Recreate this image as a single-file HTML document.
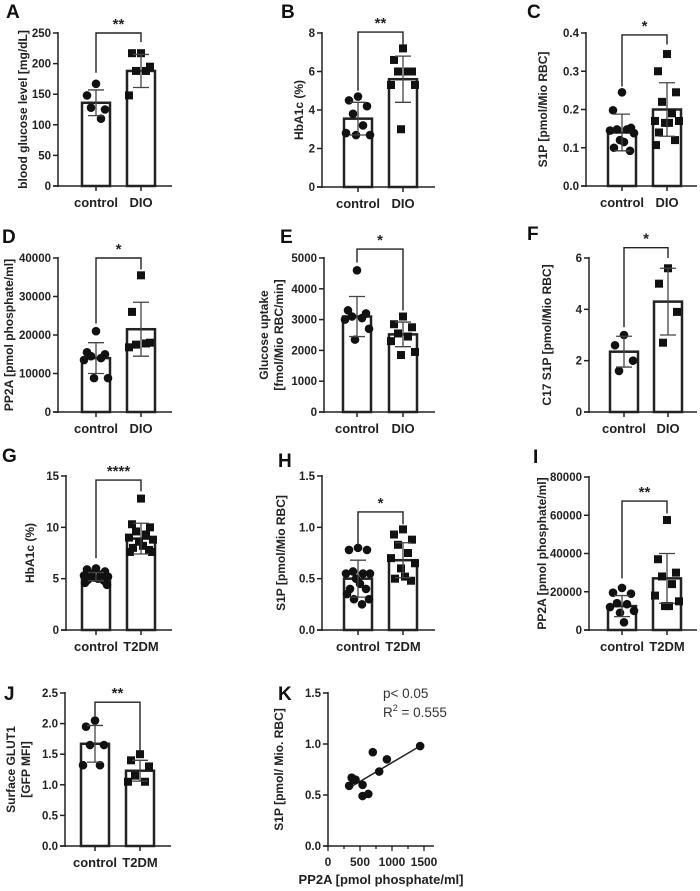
<!DOCTYPE html>
<html><head><meta charset="utf-8"><style>
body{margin:0;background:#fff}
svg{display:block;font-family:"Liberation Sans",Arial,sans-serif}
</style></head><body>
<svg id="fig" width="700" height="891" viewBox="0 0 700 891"></svg>
<script>
// ---- data ----
const catsDIO=["control","DIO"];
const catsT2=["control","T2DM"];
const aMeans=[136,188], aSD=[21,27];
const aCtrl=[167,148,125,128,110], aDio=[217,217,195,188,188,148];
const bMeans=[3.55,5.6], bSD=[0.85,1.2];
const bCtrl=[4.7,4.5,4.2,3.8,3.2,2.8,2.7,2.7], bDio=[7.2,6.6,6.0,6.0,6.0,5.3,5.3,3.0];
const cMeans=[0.14,0.2], cSD=[0.048,0.07];
const cCtrl=[0.245,0.198,0.152,0.148,0.148,0.145,0.138,0.12,0.115,0.1,0.092];
const cDio=[0.345,0.3,0.245,0.22,0.19,0.17,0.17,0.165,0.165,0.14,0.12,0.107];
const dMeans=[14000,21500], dSD=[4000,7000];
const dCtrl=[21000,15500,15000,14500,14000,13500,8800,8800], dDio=[35500,26000,18000,17500,17800,16800];
const eMeans=[3100,2520], eSD=[650,400];
const eCtrl=[4600,3300,3200,3100,3050,3000,2700,2350], eDio=[3100,2850,2750,2550,2450,2300,1950,1850];
const fMeans=[2.35,4.3], fSD=[0.6,1.3];
const fCtrl=[3.0,2.6,2.0,1.6], fDio=[5.6,5.0,3.9,2.7];
const gMeans=[5.2,8.9], gSD=[0.4,1.5];
const gCtrl=[6.0,5.9,5.7,5.5,5.4,5.3,5.2,5.1,5.0,4.9,4.8,4.6,4.4];
const gDio=[12.8,10.3,10,9.6,9.3,9,8.8,8.6,8.2,8,7.8,7.6,7.6];
const hMeans=[0.5,0.68], hSD=[0.18,0.17];
const hCtrl=[0.8,0.78,0.78,0.57,0.55,0.55,0.55,0.5,0.45,0.4,0.4,0.35,0.3,0.3,0.25];
const hDio=[0.98,0.93,0.88,0.83,0.75,0.7,0.65,0.6,0.52,0.5,0.48];
const iMeans=[12500,27000], iSD=[5500,13000];
const iCtrl=[22000,19500,19000,14000,13500,12000,10000,9000,4000];
const iDio=[57500,37000,30000,28000,24000,18000,15000,12500,12500];
const jMeans=[1.67,1.23], jSD=[0.3,0.17];
const jCtrl=[2.05,1.95,1.65,1.65,1.32,1.32], jDio=[1.5,1.4,1.3,1.15,1.05,1.05];
const kX=[330,370,400,430,540,540,630,700,800,920,1440];
const kY=[0.59,0.67,0.65,0.65,0.6,0.49,0.51,0.92,0.73,0.85,0.98];
const kFit=[0.57,0.98];

const NS="http://www.w3.org/2000/svg", svg=document.getElementById('fig');
function el(t,a,p){const e=document.createElementNS(NS,t);for(const k in a)e.setAttribute(k,a[k]);(p||svg).appendChild(e);return e;}
function txt(s,a,p){const e=el('text',a,p);e.textContent=s;return e;}
const jit=[0,-9,9,-5,5,-12,12,-2,2,-8,8,-11,11,-4,4];

function panel(o){
  const g=el('g',{});
  
  
  const y=v=>o.bot-(v/o.max)*(o.bot-o.top);
  const L=txt(o.id,{x:o.lx,y:o.ly,'font-size':19,'font-weight':'bold',fill:'#111'},g);
  
  el('line',{x1:o.ax,y1:o.top-1,x2:o.ax,y2:o.bot+1,stroke:'#222','stroke-width':1.5},g);
  el('line',{x1:o.ax-5,y1:o.bot,x2:o.xend,y2:o.bot,stroke:'#222','stroke-width':1.5},g);
  o.ticks.forEach((t,i)=>{const yy=y(t);
    el('line',{x1:o.ax-5,y1:yy,x2:o.ax,y2:yy,stroke:'#222','stroke-width':1.5},g);
    const tl=txt(o.tl[i],{x:o.ax-7,y:yy+4,'font-size':11.5,'font-weight':'bold','text-anchor':'end',fill:'#222'},g);
    });
  const tg=el('g',{transform:`translate(${o.tx},${(o.top+o.bot)/2}) rotate(-90)`},g);
  o.title.forEach((s,i)=>{const t=txt(s,{x:0,y:i*15,'font-size':12,'font-weight':'bold','text-anchor':'middle',fill:'#222'},tg);
    });
  const groups=[o.c,o.d];
  o.cx.forEach((cx,k)=>{
    el('line',{x1:cx,y1:o.bot,x2:cx,y2:o.bot+5,stroke:'#222','stroke-width':1.5},g);
    const cl=txt(o.cats[k],{x:cx,y:o.bot+21,'font-size':13,'font-weight':'bold','text-anchor':'middle',fill:'#222'},g);
    
    const b=el('rect',{x:cx-14,y:y(o.m[k]),width:28,height:o.bot-y(o.m[k]),fill:'#fff',stroke:'#222','stroke-width':2.5},g);
    
    groups[k].forEach((v,i)=>{const px=cx+jit[i%jit.length],py=y(v);
      const p=k==0?el('circle',{cx:px,cy:py,r:4.3,fill:'#111'},g):el('rect',{x:px-4,y:py-4,width:8,height:8,fill:'#111'},g);
      });
    const hi=y(o.m[k]+o.s[k]),lo=y(o.m[k]-o.s[k]);
    const eb=el('path',{d:`M${cx},${hi}V${lo}M${cx-8},${hi}H${cx+8}M${cx-8},${lo}H${cx+8}`,stroke:'#444','stroke-width':1.3,fill:'none'},g);
    
  });
  const bt=y(o.br[0]);
  const br=el('path',{d:`M${o.cx[0]},${y(o.br[1])}V${bt}H${o.cx[1]}V${y(o.br[2])}`,stroke:'#222','stroke-width':1.4,fill:'none'},g);
  
  const st=txt(o.star,{x:(o.cx[0]+o.cx[1])/2,y:bt-4,'font-size':15,'font-weight':'bold','text-anchor':'middle',fill:'#222'},g);
  
}
panel({id:'A',lx:6,ly:18,ax:58,cx:[96,141],top:33,bot:186,xend:172,max:250,ticks:[0,50,100,150,200,250],tl:['0','50','100','150','200','250'],tx:27,title:['blood glucose level [mg/dL]'],cats:catsDIO,m:aMeans,s:aSD,c:aCtrl,d:aDio,br:[250,185,235],star:'**'});
panel({id:'B',lx:281,ly:18,ax:322,cx:[358,403],top:33,bot:187,xend:435,max:8,ticks:[0,2,4,6,8],tl:['0','2','4','6','8'],tx:303,title:['HbA1c (%)'],cats:catsDIO,m:bMeans,s:bSD,c:bCtrl,d:bDio,br:[8.05,5.0,7.4],star:'**'});
panel({id:'C',lx:527,ly:18,ax:586,cx:[622,667],top:33,bot:186,xend:697,max:0.4,ticks:[0,0.1,0.2,0.3,0.4],tl:['0.0','0.1','0.2','0.3','0.4'],tx:547,title:['S1P [pmol/Mio RBC]'],cats:catsDIO,m:cMeans,s:cSD,c:cCtrl,d:cDio,br:[0.395,0.26,0.37],star:'*'});
panel({id:'D',lx:2,ly:243,ax:58,cx:[96,141],top:258,bot:412,xend:172,max:40000,ticks:[0,10000,20000,30000,40000],tl:['0','10000','20000','30000','40000'],tx:13,title:['PP2A [pmol phosphate/ml]'],cats:catsDIO,m:dMeans,s:dSD,c:dCtrl,d:dDio,br:[40000,23000,37000],star:'*'});
panel({id:'E',lx:280,ly:243,ax:324,cx:[357,403],top:258,bot:412,xend:435,max:5000,ticks:[0,1000,2000,3000,4000,5000],tl:['0','1000','2000','3000','4000','5000'],tx:268,title:['Glucose uptake','[fmol/Mio RBC/min]'],cats:catsDIO,m:eMeans,s:eSD,c:eCtrl,d:eDio,br:[5290,4850,3300],star:'*'});
panel({id:'F',lx:527,ly:240,ax:589,cx:[624,668],top:258,bot:412,xend:697,max:6,ticks:[0,2,4,6],tl:['0','2','4','6'],tx:551,title:['C17 S1P [pmol/Mio RBC]'],cats:catsDIO,m:fMeans,s:fSD,c:fCtrl,d:fDio,br:[6.4,3.3,6.0],star:'*'});
panel({id:'G',lx:2,ly:462,ax:66,cx:[96,141],top:476,bot:630,xend:172,max:15,ticks:[0,5,10,15],tl:['0','5','10','15'],tx:34,title:['HbA1c (%)'],cats:catsT2,m:gMeans,s:gSD,c:gCtrl,d:gDio,br:[14.6,7,13.5],star:'****'});
panel({id:'H',lx:278,ly:467,ax:322,cx:[358,403],top:476,bot:630,xend:435,max:1.5,ticks:[0,0.5,1,1.5],tl:['0.0','0.5','1.0','1.5'],tx:285,title:['S1P [pmol/Mio RBC]'],cats:catsT2,m:hMeans,s:hSD,c:hCtrl,d:hDio,br:[1.15,0.83,1.03],star:'*'});
panel({id:'I',lx:533,ly:463,ax:589,cx:[622,667],top:477,bot:630,xend:697,max:80000,ticks:[0,20000,40000,60000,80000],tl:['0','20000','40000','60000','80000'],tx:546,title:['PP2A [pmol phosphate/ml]'],cats:catsT2,m:iMeans,s:iSD,c:iCtrl,d:iDio,br:[67400,27000,61000],star:'**'});
panel({id:'J',lx:4,ly:700,ax:65,cx:[95,140],top:693,bot:846,xend:171,max:2.5,ticks:[0,0.5,1,1.5,2,2.5],tl:['0.0','0.5','1.0','1.5','2.0','2.5'],tx:15,title:['Surface  GLUT1','[GFP MFI]'],cats:catsT2,m:jMeans,s:jSD,c:jCtrl,d:jDio,br:[2.35,2.12,1.55],star:'**'});

// ---- K scatter ----
(function(){
  const g=el('g',{});
  
  
  const ax=328,top=693,bot=846,x=v=>ax+v/1500*96,y=v=>bot-v/1.5*(bot-top);
  txt('K',{x:278,y:700,'font-size':19,'font-weight':'bold',fill:'#111'},g);
  el('line',{x1:ax,y1:top-1,x2:ax,y2:bot+1,stroke:'#222','stroke-width':1.5},g);
  el('line',{x1:ax-5,y1:bot,x2:434,y2:bot,stroke:'#222','stroke-width':1.5},g);
  [0,0.5,1,1.5].forEach((t,i)=>{el('line',{x1:ax-5,y1:y(t),x2:ax,y2:y(t),stroke:'#222','stroke-width':1.5},g);
    txt(['0.0','0.5','1.0','1.5'][i],{x:ax-7,y:y(t)+4,'font-size':11.5,'font-weight':'bold','text-anchor':'end',fill:'#222'},g);});
  [0,250,500,750,1000,1250,1500].forEach(t=>{const big=t%500==0;
    el('line',{x1:x(t),y1:bot,x2:x(t),y2:bot+(big?5:3),stroke:'#222','stroke-width':1.3},g);
    if(big) txt(String(t),{x:x(t),y:bot+20,'font-size':12,'font-weight':'bold','text-anchor':'middle',fill:'#222'},g);});
  const xt=txt('PP2A [pmol phosphate/ml]',{x:381,y:884,'font-size':13,'font-weight':'bold','text-anchor':'middle',fill:'#222'},g);
  
  const yt=txt('S1P  [pmol/ Mio. RBC]',{x:0,y:0,'font-size':12,'font-weight':'bold','text-anchor':'middle',fill:'#222',transform:`translate(283,${(top+bot)/2}) rotate(-90)`},g);
  
  const fl=el('line',{x1:x(kX[0]),y1:y(kFit[0]),x2:x(kX[kX.length-1]),y2:y(kFit[1]),stroke:'#222','stroke-width':1.5},g);
  
  kX.forEach((v,i)=>{const c=el('circle',{cx:x(v),cy:y(kY[i]),r:4.3,fill:'#111'},g);
    });
  const p=txt('p< 0.05',{x:383,y:698,'font-size':13.5,fill:'#333'},g);
  
  const r=el('text',{x:383,y:717,'font-size':13.5,fill:'#333'},g);
  
  r.innerHTML='R<tspan dy="-6" font-size="9">2</tspan><tspan dy="6"> = 0.555</tspan>';
})();
</script>
</body></html>
